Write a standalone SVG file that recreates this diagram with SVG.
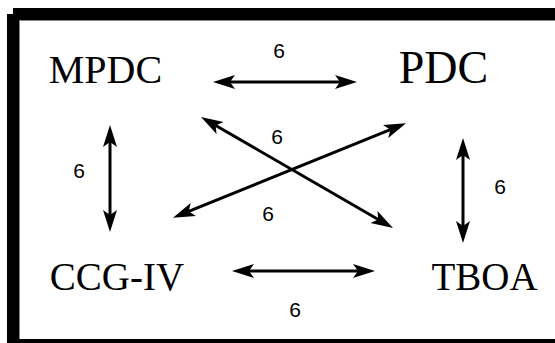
<svg xmlns="http://www.w3.org/2000/svg" width="555" height="343" viewBox="0 0 555 343">
<style>
.node{font-family:"Liberation Serif","Times New Roman",serif;fill:#000;text-anchor:middle}
.lbl{font-family:"Liberation Sans",Arial,sans-serif;font-size:21px;fill:#000;text-anchor:middle}
.conn line{stroke:#000;stroke-width:3;marker-start:url(#ah);marker-end:url(#ah)}
</style>
<defs>
<marker id="ah" markerUnits="userSpaceOnUse" viewBox="-6 -8 24 16" markerWidth="24" markerHeight="16" refX="0" refY="0" orient="auto-start-reverse">
<path d="M17,0 L-5,-7 L0,0 L-5,7 Z" fill="#000"/>
</marker>
</defs>
<rect x="0" y="0" width="555" height="343" fill="#fff"/>
<g id="frame" fill="#000">
<rect x="13" y="8" width="542" height="12"/>
<rect x="7" y="14" width="12" height="329"/>
<rect x="7" y="339" width="548" height="4"/>
<line x1="19.5" y1="20" x2="19.5" y2="339" stroke="#888" stroke-width="1"/>
<line x1="19" y1="20.5" x2="555" y2="20.5" stroke="#888" stroke-width="1"/>
</g>
<g id="connectors" class="conn">
<line x1="230" y1="82" x2="340" y2="82"/>
<line x1="110" y1="142" x2="110" y2="215"/>
<line x1="463" y1="155" x2="463" y2="226"/>
<line x1="249" y1="271" x2="358" y2="271"/>
<line x1="215.7" y1="125.5" x2="378.3" y2="219.5"/>
<line x1="390.3" y1="129.7" x2="188.7" y2="211.3"/>
</g>
<g id="labels">
<text class="lbl" x="279" y="58">6</text>
<text class="lbl" x="79" y="178">6</text>
<text class="lbl" x="500" y="194">6</text>
<text class="lbl" x="295" y="317">6</text>
<text class="lbl" x="277" y="144">6</text>
<text class="lbl" x="268" y="221">6</text>
</g>
<g id="MPDC"><text class="node" x="105.5" y="83" font-size="40">MPDC</text></g>
<g id="PDC"><text class="node" x="443.5" y="83" font-size="46">PDC</text></g>
<g id="CCG-IV"><text class="node" x="117" y="290" font-size="39">CCG-IV</text></g>
<g id="TBOA"><text class="node" x="484.5" y="290" font-size="39">TBOA</text></g>
</svg>
